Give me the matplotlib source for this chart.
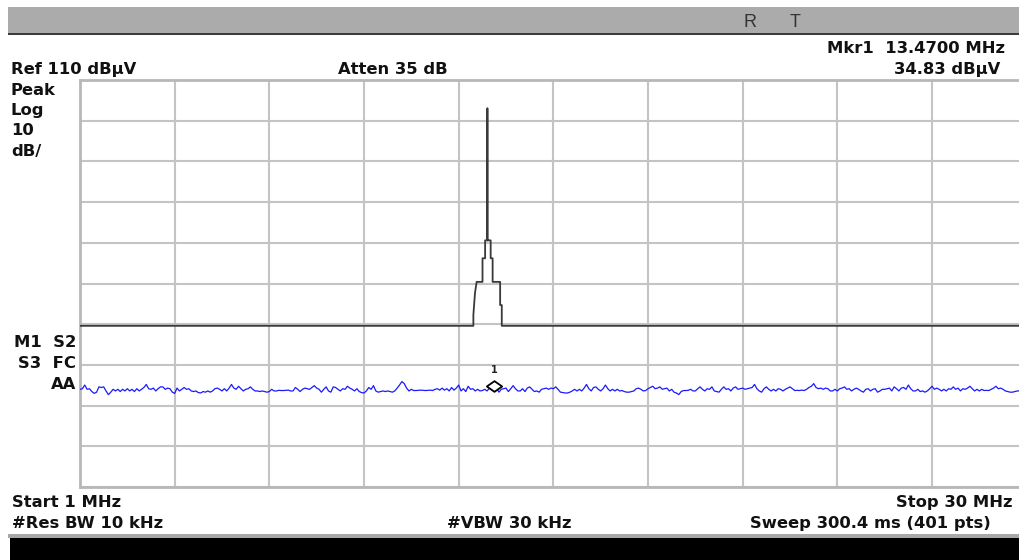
import numpy as np
import matplotlib
matplotlib.use('Agg')
import matplotlib.pyplot as plt
from matplotlib.patches import Rectangle
from matplotlib.path import Path

# sweep settings
start_mhz = 1.0
stop_mhz = 30.0
n_pts = 401
ref_level = 110
db_per_div = 10

# stored trace (black), read as a polyline
ref_freq = [1.0, 13.05, 13.05, 13.10, 13.15, 13.33, 13.33, 13.41, 13.41, 13.48, 13.48, 13.48,
            13.58, 13.58, 13.64, 13.64, 13.87, 13.87, 13.92, 13.92, 30.0]
ref_level_db = [49.6, 49.6, 52.3, 57.7, 60.4, 60.4, 66.2, 66.2, 70.6, 70.6, 103.0, 70.6,
                70.6, 66.2, 66.2, 60.4, 60.4, 54.7, 54.7, 49.6, 49.6]

# live trace (blue), 401 points in dBuV
live_db = [
    34.0, 34.15, 35.05, 34.0, 34.15, 33.45, 33.0, 33.3, 34.6, 34.45, 34.6, 33.6, 32.7, 33.3, 34.0, 33.6, 34.0, 33.45, 34.0, 33.6,
    34.15, 33.6, 34.0, 33.45, 34.15, 33.6, 34.0, 34.45, 35.2, 34.15, 34.0, 34.3, 33.6, 34.15, 34.6, 34.6, 34.0, 34.3, 34.15, 33.3,
    33.0, 34.3, 33.6, 34.0, 34.45, 34.0, 34.15, 33.6, 33.45, 33.6, 33.2, 33.1, 33.45, 33.3, 33.6, 33.3, 33.6, 34.15, 34.3, 34.0,
    33.6, 34.15, 33.6, 34.3, 35.2, 34.3, 34.0, 34.75, 34.15, 33.6, 34.0, 34.15, 34.6, 34.0, 33.6, 33.6, 33.45, 33.6, 33.45, 33.3,
    33.45, 34.0, 33.6, 33.6, 33.75, 33.7, 33.7, 33.75, 33.8, 33.6, 33.6, 34.45, 34.0, 33.45, 34.0, 34.3, 34.15, 34.0, 34.45, 34.9,
    34.3, 34.0, 33.3, 34.0, 34.6, 33.6, 33.3, 34.6, 34.45, 34.0, 33.6, 34.15, 34.0, 34.75, 34.3, 34.0, 33.6, 34.15, 33.45, 33.2,
    33.1, 33.6, 34.45, 34.0, 34.9, 33.6, 33.3, 33.45, 33.6, 33.45, 33.6, 33.45, 33.3, 33.6, 34.3, 35.05, 35.9, 35.4, 34.3, 33.6,
    34.0, 33.7, 33.7, 33.75, 33.8, 33.75, 33.7, 33.75, 33.8, 33.7, 34.0, 34.15, 33.8, 34.3, 33.8, 34.15, 33.6, 34.45, 33.8, 34.3,
    35.05, 33.6, 34.15, 33.45, 34.75, 34.0, 34.15, 33.6, 34.0, 33.6, 33.7, 34.0, 33.6, 34.3, 34.6, 34.8, 34.3, 33.3, 34.0, 34.15,
    34.3, 33.45, 34.15, 34.9, 34.15, 33.6, 33.6, 34.15, 33.45, 34.3, 34.6, 34.0, 33.45, 33.6, 33.3, 34.0, 34.15, 34.3, 34.0, 34.3,
    34.15, 34.6, 34.0, 33.3, 33.2, 33.1, 33.1, 33.3, 33.6, 34.0, 33.6, 34.0, 33.6, 34.3, 35.2, 34.15, 33.6, 34.45, 34.6, 34.0,
    33.6, 34.15, 35.05, 34.15, 33.6, 34.0, 33.6, 34.0, 33.6, 33.7, 33.45, 33.3, 33.3, 33.45, 33.6, 34.15, 34.3, 34.0, 33.6, 33.7,
    34.15, 34.45, 34.75, 34.15, 34.3, 34.6, 34.0, 34.15, 34.3, 33.6, 34.0, 33.3, 33.1, 32.7, 33.45, 33.7, 33.7, 33.75, 34.0, 33.6,
    33.6, 34.15, 34.6, 34.0, 33.6, 34.15, 34.0, 34.6, 33.6, 33.45, 33.3, 34.0, 34.6, 34.0, 34.15, 33.6, 34.3, 34.6, 34.0, 34.15,
    34.3, 34.0, 34.15, 34.3, 34.45, 35.2, 34.15, 33.6, 33.3, 34.15, 34.6, 34.0, 33.6, 34.0, 33.6, 34.15, 34.0, 33.6, 34.0, 34.3,
    34.6, 34.15, 33.7, 33.75, 33.7, 33.8, 33.7, 34.0, 34.45, 34.75, 35.4, 34.45, 34.15, 34.3, 34.0, 34.3, 34.15, 33.6, 33.6, 34.0,
    33.6, 34.15, 34.3, 34.6, 34.0, 34.15, 33.6, 34.0, 34.3, 34.0, 33.6, 33.3, 34.0, 34.15, 33.6, 34.0, 34.15, 33.3, 33.6, 34.0,
    34.0, 34.15, 34.3, 33.6, 34.6, 34.15, 33.6, 34.3, 34.45, 34.0, 35.05, 34.15, 33.6, 33.6, 34.0, 33.45, 33.6, 33.3, 33.6, 34.15,
    34.75, 34.0, 34.3, 34.0, 33.6, 34.0, 33.6, 34.15, 34.0, 34.6, 34.0, 34.3, 33.6, 34.15, 34.0, 34.3, 34.75, 34.15, 33.6, 34.0,
    33.6, 34.0, 33.7, 33.75, 33.7, 34.0, 34.3, 34.75, 34.15, 34.3, 34.0, 33.6, 33.45, 33.3, 33.3, 33.45, 33.6, 33.6, 34.0, 33.6,
    34.0,
]
mkr_idx = 175

freq = np.linspace(start_mhz, stop_mhz, n_pts)

W, H = 1020, 560
fig = plt.figure(figsize=(W / 100, H / 100), dpi=100)
fig.patch.set_facecolor('white')


def fx(px):
    return px / W


def fy(py):
    return 1 - py / H


# title bar and bottom status bar
fig.patches.append(Rectangle((fx(8), fy(33)), 1, 26 / H, transform=fig.transFigure,
                             facecolor='#ababab', edgecolor='none'))
fig.patches.append(Rectangle((fx(8), fy(35)), 1, 2 / H, transform=fig.transFigure,
                             facecolor='#3c3c3c', edgecolor='none'))
fig.patches.append(Rectangle((fx(8), fy(538)), 1, 4 / H, transform=fig.transFigure,
                             facecolor='#a8a8a8', edgecolor='none'))
fig.patches.append(Rectangle((fx(10), 0), 1, 22 / H, transform=fig.transFigure,
                             facecolor='black', edgecolor='none'))

fig.text(fx(750), fy(27), 'R', fontsize=13, color='#333333', ha='center', va='baseline',
         family='Liberation Sans')
fig.text(fx(795), fy(27), 'T', fontsize=13, color='#333333', ha='center', va='baseline',
         family='Liberation Sans')

# annotation texts
tkw = dict(fontsize=11.8, fontweight='bold', color='#111111', va='baseline', family='DejaVu Sans')
fig.text(fx(1005), fy(53), 'Mkr1  13.4700 MHz', ha='right', **tkw)
fig.text(fx(1000), fy(74), '34.83 dB\u00b5V', ha='right', **tkw)
fig.text(fx(11), fy(74), 'Ref 110 dB\u00b5V', ha='left', **tkw)
fig.text(fx(338), fy(74), 'Atten 35 dB', ha='left', **tkw)
fig.text(fx(11), fy(95), 'Peak', ha='left', **tkw)
fig.text(fx(11), fy(115), 'Log', ha='left', **tkw)
fig.text(fx(11), fy(135), '10', ha='left', **tkw)
fig.text(fx(11), fy(156), 'dB/', ha='left', **tkw)
fig.text(fx(76), fy(347), 'M1  S2', ha='right', **tkw)
fig.text(fx(76), fy(368), 'S3  FC', ha='right', **tkw)
fig.text(fx(76), fy(389), 'AA', ha='right', **tkw)
fig.text(fx(12), fy(507), 'Start 1 MHz', ha='left', **tkw)
fig.text(fx(1013), fy(507), 'Stop 30 MHz', ha='right', **tkw)
fig.text(fx(12), fy(528), '#Res BW 10 kHz', ha='left', **tkw)
fig.text(fx(447), fy(528), '#VBW 30 kHz', ha='left', **tkw)
fig.text(fx(991), fy(528), 'Sweep 300.4 ms (401 pts)', ha='right', **tkw)

# graticule
ax = fig.add_axes([fx(80), fy(487), 946.7 / W, 407 / H])
ax.set_xlim(start_mhz, stop_mhz)
ax.set_ylim(ref_level - 10 * db_per_div, ref_level)
ax.set_xticks(np.linspace(start_mhz, stop_mhz, 11))
ax.set_yticks(np.arange(ref_level - 10 * db_per_div, ref_level + 1, db_per_div))
ax.tick_params(length=0, labelbottom=False, labelleft=False)
ax.grid(True, color='#c4c4c4', linewidth=1.5)
ax.set_axisbelow(True)
for side in ax.spines.values():
    side.set_color('#b8b8b8')
    side.set_linewidth(2)

ax.plot(ref_freq, ref_level_db, color='#3a3a3a', linewidth=1.3, zorder=3)
ax.plot(freq, live_db, color='#1a1aff', linewidth=0.9, zorder=4)

# marker 1
diamond = Path([(-1, 0), (0, 0.7), (1, 0), (0, -0.7), (-1, 0)],
               [Path.MOVETO, Path.LINETO, Path.LINETO, Path.LINETO, Path.CLOSEPOLY])
ax.plot(freq[mkr_idx], live_db[mkr_idx], marker=diamond, markersize=11,
        markerfacecolor='white', markeredgecolor='black', markeredgewidth=1.3, zorder=5)
ax.annotate('1', (freq[mkr_idx], live_db[mkr_idx]), xytext=(0, 8), textcoords='offset points',
            ha='center', va='bottom', fontsize=7, fontweight='bold', color='#222222')

fig.savefig('out.png', dpi=100)
